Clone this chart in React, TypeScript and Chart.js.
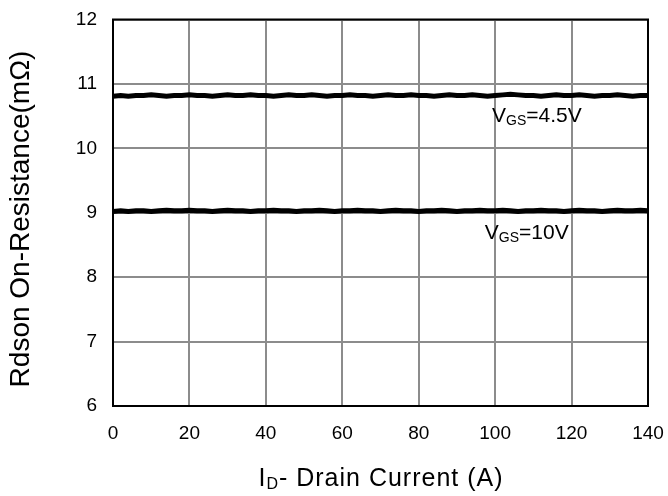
import React, { useEffect, useRef } from "react";
import { Chart, registerables } from "chart.js";

Chart.register(...registerables);

const currents = [
  0, 2, 4, 6, 8, 10, 12, 14, 16, 18,
  20, 22, 24, 26, 28, 30, 32, 34, 36, 38,
  40, 42, 44, 46, 48, 50, 52, 54, 56, 58,
  60, 62, 64, 66, 68, 70, 72, 74, 76, 78,
  80, 82, 84, 86, 88, 90, 92, 94, 96, 98,
  100, 102, 104, 106, 108, 110, 112, 114, 116, 118,
  120, 122, 124, 126, 128, 130, 132, 134, 136, 138,
  140,
];

const rdsonVgs45 = [
  10.81, 10.82, 10.81, 10.82, 10.82, 10.83, 10.82, 10.81, 10.82, 10.82,
  10.83, 10.82, 10.82, 10.81, 10.82, 10.83, 10.82, 10.82, 10.83, 10.82,
  10.82, 10.81, 10.82, 10.83, 10.82, 10.82, 10.83, 10.82, 10.81, 10.82,
  10.82, 10.83, 10.82, 10.82, 10.81, 10.82, 10.83, 10.82, 10.82, 10.83,
  10.82, 10.82, 10.81, 10.82, 10.83, 10.82, 10.82, 10.83, 10.82, 10.81,
  10.82, 10.83, 10.84, 10.83, 10.82, 10.82, 10.81, 10.82, 10.83, 10.82,
  10.82, 10.83, 10.82, 10.81, 10.82, 10.82, 10.83, 10.82, 10.81, 10.82,
  10.82,
];

const rdsonVgs10 = [
  9.02, 9.03, 9.02, 9.03, 9.03, 9.02, 9.03, 9.04, 9.03, 9.03,
  9.04, 9.03, 9.03, 9.02, 9.03, 9.04, 9.03, 9.03, 9.02, 9.03,
  9.03, 9.04, 9.03, 9.03, 9.02, 9.03, 9.03, 9.04, 9.03, 9.02,
  9.03, 9.03, 9.04, 9.03, 9.03, 9.02, 9.03, 9.04, 9.03, 9.03,
  9.02, 9.03, 9.03, 9.04, 9.03, 9.02, 9.03, 9.03, 9.04, 9.03,
  9.03, 9.04, 9.03, 9.02, 9.03, 9.03, 9.04, 9.03, 9.03, 9.02,
  9.03, 9.04, 9.03, 9.03, 9.02, 9.03, 9.04, 9.03, 9.03, 9.04,
  9.03,
];

const xTicks = [0, 20, 40, 60, 80, 100, 120, 140];
const yTicks = [6, 7, 8, 9, 10, 11, 12];

const curveLabels = [
  { main: "V", sub: "GS", rest: "=4.5V", x: 99.2, y: 10.5 },
  { main: "V", sub: "GS", rest: "=10V", x: 97.3, y: 8.68 },
];

const FONT = "'Liberation Sans', Arial, sans-serif";

const drawSubText = (
  ctx: CanvasRenderingContext2D,
  main: string,
  sub: string,
  rest: string,
  x: number,
  y: number,
  size: number
) => {
  ctx.textBaseline = "middle";
  ctx.textAlign = "left";
  ctx.font = `${size}px ${FONT}`;
  ctx.fillText(main, x, y);
  let cx = x + ctx.measureText(main).width;
  const subSize = Math.round(size * 0.65);
  ctx.font = `${subSize}px ${FONT}`;
  ctx.fillText(sub, cx, y + size * 0.22);
  cx += ctx.measureText(sub).width;
  ctx.font = `${size}px ${FONT}`;
  ctx.fillText(rest, cx, y);
};

const overlayPlugin = {
  id: "overlay",
  afterDraw(chart: any) {
    const { ctx, chartArea, scales } = chart;
    ctx.save();
    ctx.strokeStyle = "#000";
    ctx.lineWidth = 2;
    ctx.strokeRect(
      chartArea.left,
      chartArea.top,
      chartArea.right - chartArea.left,
      chartArea.bottom - chartArea.top
    );
    ctx.fillStyle = "#000";
    curveLabels.forEach((l) => {
      const px = scales.x.getPixelForValue(l.x);
      const py = scales.y.getPixelForValue(l.y);
      drawSubText(ctx, l.main, l.sub, l.rest, px, py, 21);
    });
    // x title
    const xt = { main: "I", sub: "D", rest: "- Drain Current (A)" };
    const size = 25;
    (ctx as any).letterSpacing = "1px";
    ctx.font = `${size}px ${FONT}`;
    let w = ctx.measureText(xt.main).width + ctx.measureText(xt.rest).width;
    ctx.font = `${Math.round(size * 0.65)}px ${FONT}`;
    w += ctx.measureText(xt.sub).width;
    const cx = 381;
    drawSubText(ctx, xt.main, xt.sub, xt.rest, cx - w / 2, 479, size);
    (ctx as any).letterSpacing = "0px";
    // y title
    ctx.translate(21, 219);
    ctx.rotate(-Math.PI / 2);
    ctx.font = `28px ${FONT}`;
    ctx.textAlign = "center";
    ctx.textBaseline = "middle";
    ctx.fillText("Rdson On-Resistance(m\u03A9)", 0, 0);
    ctx.restore();
  },
};

export default function App() {
  const ref = useRef<HTMLCanvasElement | null>(null);
  useEffect(() => {
    if (!ref.current) return;
    const chart = new Chart(ref.current, {
      type: "line",
      data: {
        datasets: [
          {
            label: "VGS=4.5V",
            data: currents.map((x, i) => ({ x, y: rdsonVgs45[i] })),
            borderColor: "#000",
            borderWidth: 5,
            pointRadius: 0,
            tension: 0,
          },
          {
            label: "VGS=10V",
            data: currents.map((x, i) => ({ x, y: rdsonVgs10[i] })),
            borderColor: "#000",
            borderWidth: 5,
            pointRadius: 0,
            tension: 0,
          },
        ],
      },
      options: {
        animation: false,
        responsive: false,
        maintainAspectRatio: false,
        layout: { padding: { top: 19.5, right: 20, left: 0, bottom: 0 } },
        plugins: {
          legend: { display: false },
          tooltip: { enabled: false },
        },
        scales: {
          x: {
            type: "linear",
            min: 0,
            max: 140,
            afterBuildTicks: (s: any) => {
              s.ticks = xTicks.map((v) => ({ value: v }));
            },
            afterFit: (s: any) => {
              s.height = 90;
              s.paddingLeft = 0;
              s.paddingRight = 0;
            },
            grid: { color: "#8c8c8c", lineWidth: 2, drawTicks: false },
            border: { display: false },
            ticks: {
              color: "#000",
              padding: 16,
              font: { family: FONT, size: 19 },
              maxRotation: 0,
            },
          },
          y: {
            type: "linear",
            min: 6,
            max: 12,
            afterBuildTicks: (s: any) => {
              s.ticks = yTicks.map((v) => ({ value: v }));
            },
            afterFit: (s: any) => {
              s.width = 113;
              s.paddingTop = 0;
              s.paddingBottom = 0;
            },
            grid: { color: "#8c8c8c", lineWidth: 2, drawTicks: false },
            border: { display: false },
            ticks: {
              color: "#000",
              padding: 16,
              font: { family: FONT, size: 19 },
            },
          },
        },
      },
      plugins: [overlayPlugin],
    });
    return () => chart.destroy();
  }, []);
  return (
    <div style={{ position: "fixed", left: 0, top: 0, width: 668, height: 496, background: "#fff" }}>
      <canvas ref={ref} width={668} height={496} style={{ width: 668, height: 496, display: "block" }} />
    </div>
  );
}
